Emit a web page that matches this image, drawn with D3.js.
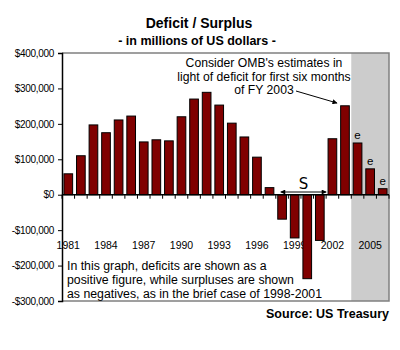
<!DOCTYPE html>
<html>
<head>
<meta charset="utf-8">
<script src="https://cdn.jsdelivr.net/npm/d3@7"></script>
<style>
	body { margin: 0; background: #fff; }
	svg { font-family: 'Liberation Sans', Arial, sans-serif; }
</style>
</head>
<body>
<div id="chart"></div>
<script>
// data (millions of US dollars, deficit positive)
const years = d3.range(1981, 2007);
const deficits = [59, 110, 197, 175, 211, 222, 149, 155, 152, 220, 270,
	289, 253, 202, 163, 106, 20, -69, -122, -237, -129, 158, 251, 146, 73, 17];
const estimateYears = [2004, 2005, 2006];
const yTicks = [-300000, -200000, -100000, 0, 100000, 200000, 300000, 400000];
const xLabelYears = [1981, 1984, 1987, 1990, 1993, 1996, 1999, 2002, 2005];
const surplusYears = [1998, 2001];

const width = 400;
const height = 350;
const plot = { left: 62, right: 389, top: 53, bottom: 301 };

const svg = d3.select('#chart').append('svg')
	.attr('width', width)
	.attr('height', height);

const x = d3.scaleBand()
	.domain(years)
	.range([plot.left, plot.right])
	.paddingInner(0.31)
	.paddingOuter(0.155);
const y = d3.scaleLinear()
	.domain([-300000, 400000])
	.range([plot.bottom, plot.top]);

// shaded estimate zone
const step = x.step();
const shadeX = x(estimateYears[0]) - step * 0.155;
svg.append('rect')
	.attr('x', shadeX)
	.attr('y', plot.top)
	.attr('width', plot.right - shadeX)
	.attr('height', plot.bottom - plot.top)
	.style('fill', '#cccccc');

// frame
svg.append('path')
	.attr('d', `M${plot.left},${plot.top}H${plot.right}V${plot.bottom}H${plot.left}`)
	.style('fill', 'none')
	.style('stroke', '#808080')
	.style('stroke-width', 1.5);

// title
svg.append('text')
	.attr('x', 199)
	.attr('y', 28)
	.style('font-size', '14px')
	.style('font-weight', 700)
	.style('text-anchor', 'middle')
	.text('Deficit / Surplus');
svg.append('text')
	.attr('x', 197)
	.attr('y', 45)
	.style('font-size', '12.5px')
	.style('font-weight', 700)
	.style('text-anchor', 'middle')
	.text('- in millions of US dollars -');

// year labels (drawn under the bars)
svg.append('g').selectAll('text')
	.data(xLabelYears)
	.enter()
	.append('text')
		.attr('x', d => x(d) + x.bandwidth() / 2)
		.attr('y', 249)
		.style('font-size', '10.5px')
		.style('text-anchor', 'middle')
		.text(d => d);

// bars
svg.append('g').selectAll('rect')
	.data(years.map((yr, i) => ({ year: yr, value: deficits[i] * 1000 })))
	.enter()
	.append('rect')
		.attr('x', d => x(d.year))
		.attr('y', d => y(Math.max(0, d.value)))
		.attr('width', x.bandwidth())
		.attr('height', d => Math.abs(y(d.value) - y(0)))
		.style('fill', '#800000')
		.style('stroke', '#000')
		.style('stroke-width', 1);

// y axis
const yAxis = d3.axisLeft(y)
	.tickValues(yTicks)
	.tickSize(4)
	.tickPadding(4)
	.tickFormat(v => (v < 0 ? '-' : '') + '$' + d3.format(',')(Math.abs(v)));
const yAxisG = svg.append('g')
	.attr('transform', `translate(${plot.left}, 0)`)
	.call(yAxis);
yAxisG.select('.domain').style('stroke-width', 1.5);
yAxisG.selectAll('text')
	.style('font-size', '10px')
	.style('font-family', "'Liberation Sans', Arial, sans-serif")
	.style('letter-spacing', '-0.3px');

// zero line with category ticks
const zeroG = svg.append('g');
zeroG.append('line')
	.attr('x1', plot.left)
	.attr('x2', plot.right)
	.attr('y1', y(0))
	.attr('y2', y(0))
	.style('stroke', '#000')
	.style('stroke-width', 1.5);
zeroG.selectAll('.tk')
	.data(years.concat([2007]))
	.enter()
	.append('line')
		.attr('x1', (d, i) => plot.left + i * step)
		.attr('x2', (d, i) => plot.left + i * step)
		.attr('y1', y(0))
		.attr('y2', y(0) + 4)
		.style('stroke', '#000');

// "e" marks on estimates
svg.append('g').selectAll('text')
	.data(estimateYears)
	.enter()
	.append('text')
		.attr('x', d => x(d) + x.bandwidth() / 2)
		.attr('y', d => y(deficits[years.indexOf(d)] * 1000) - 4)
		.style('font-size', '11.5px')
		.style('text-anchor', 'middle')
		.text('e');

// defs for arrowheads
const defs = svg.append('defs');
defs.append('marker')
	.attr('id', 'ah')
	.attr('viewBox', '0 0 10 10')
	.attr('refX', 9)
	.attr('refY', 5)
	.attr('markerWidth', 9)
	.attr('markerHeight', 5)
	.attr('orient', 'auto-start-reverse')
	.attr('markerUnits', 'userSpaceOnUse')
	.append('path')
		.attr('d', 'M0,0L10,5L0,10z')
		.style('fill', '#000');

// surplus span
const sx1 = x(surplusYears[0]) + 3;
const sx2 = x(surplusYears[1]) + x.bandwidth() + 2;
svg.append('line')
	.attr('x1', sx1)
	.attr('x2', sx2)
	.attr('y1', 192)
	.attr('y2', 192)
	.attr('marker-start', 'url(#ah)')
	.attr('marker-end', 'url(#ah)')
	.style('stroke', '#000')
	.style('stroke-width', 1);
svg.append('text')
	.attr('x', (sx1 + sx2) / 2)
	.attr('y', 189)
	.style('font-size', '15px')
	.style('font-family', "'DejaVu Sans', sans-serif")
	.style('text-anchor', 'middle')
	.text('S');

// OMB note
const note = ['Consider OMB\'s estimates in', 'light of deficit for first six months', 'of FY 2003'];
svg.append('g').selectAll('text')
	.data(note)
	.enter()
	.append('text')
		.attr('x', 264)
		.attr('y', (d, i) => 67 + i * 13.5)
		.style('font-size', '12.2px')
		.style('text-anchor', 'middle')
		.text(d => d);
svg.append('line')
	.attr('x1', 296)
	.attr('y1', 91)
	.attr('x2', 337)
	.attr('y2', 103)
	.attr('marker-end', 'url(#ah)')
	.style('stroke', '#000')
	.style('stroke-width', 1);

// explanation in the lower left
const expl = ['In this graph, deficits are shown as a',
	'positive figure, while surpluses are shown',
	'as negatives, as in the brief case of 1998-2001'];
svg.append('g').selectAll('text')
	.data(expl)
	.enter()
	.append('text')
		.attr('x', 67)
		.attr('y', (d, i) => 270 + i * 13.8)
		.style('font-size', '12.3px')
		.text(d => d);

svg.append('text')
	.attr('x', 389)
	.attr('y', 318)
	.style('font-size', '12.5px')
	.style('font-weight', 700)
	.style('text-anchor', 'end')
	.text('Source: US Treasury');
</script>
</body>
</html>
